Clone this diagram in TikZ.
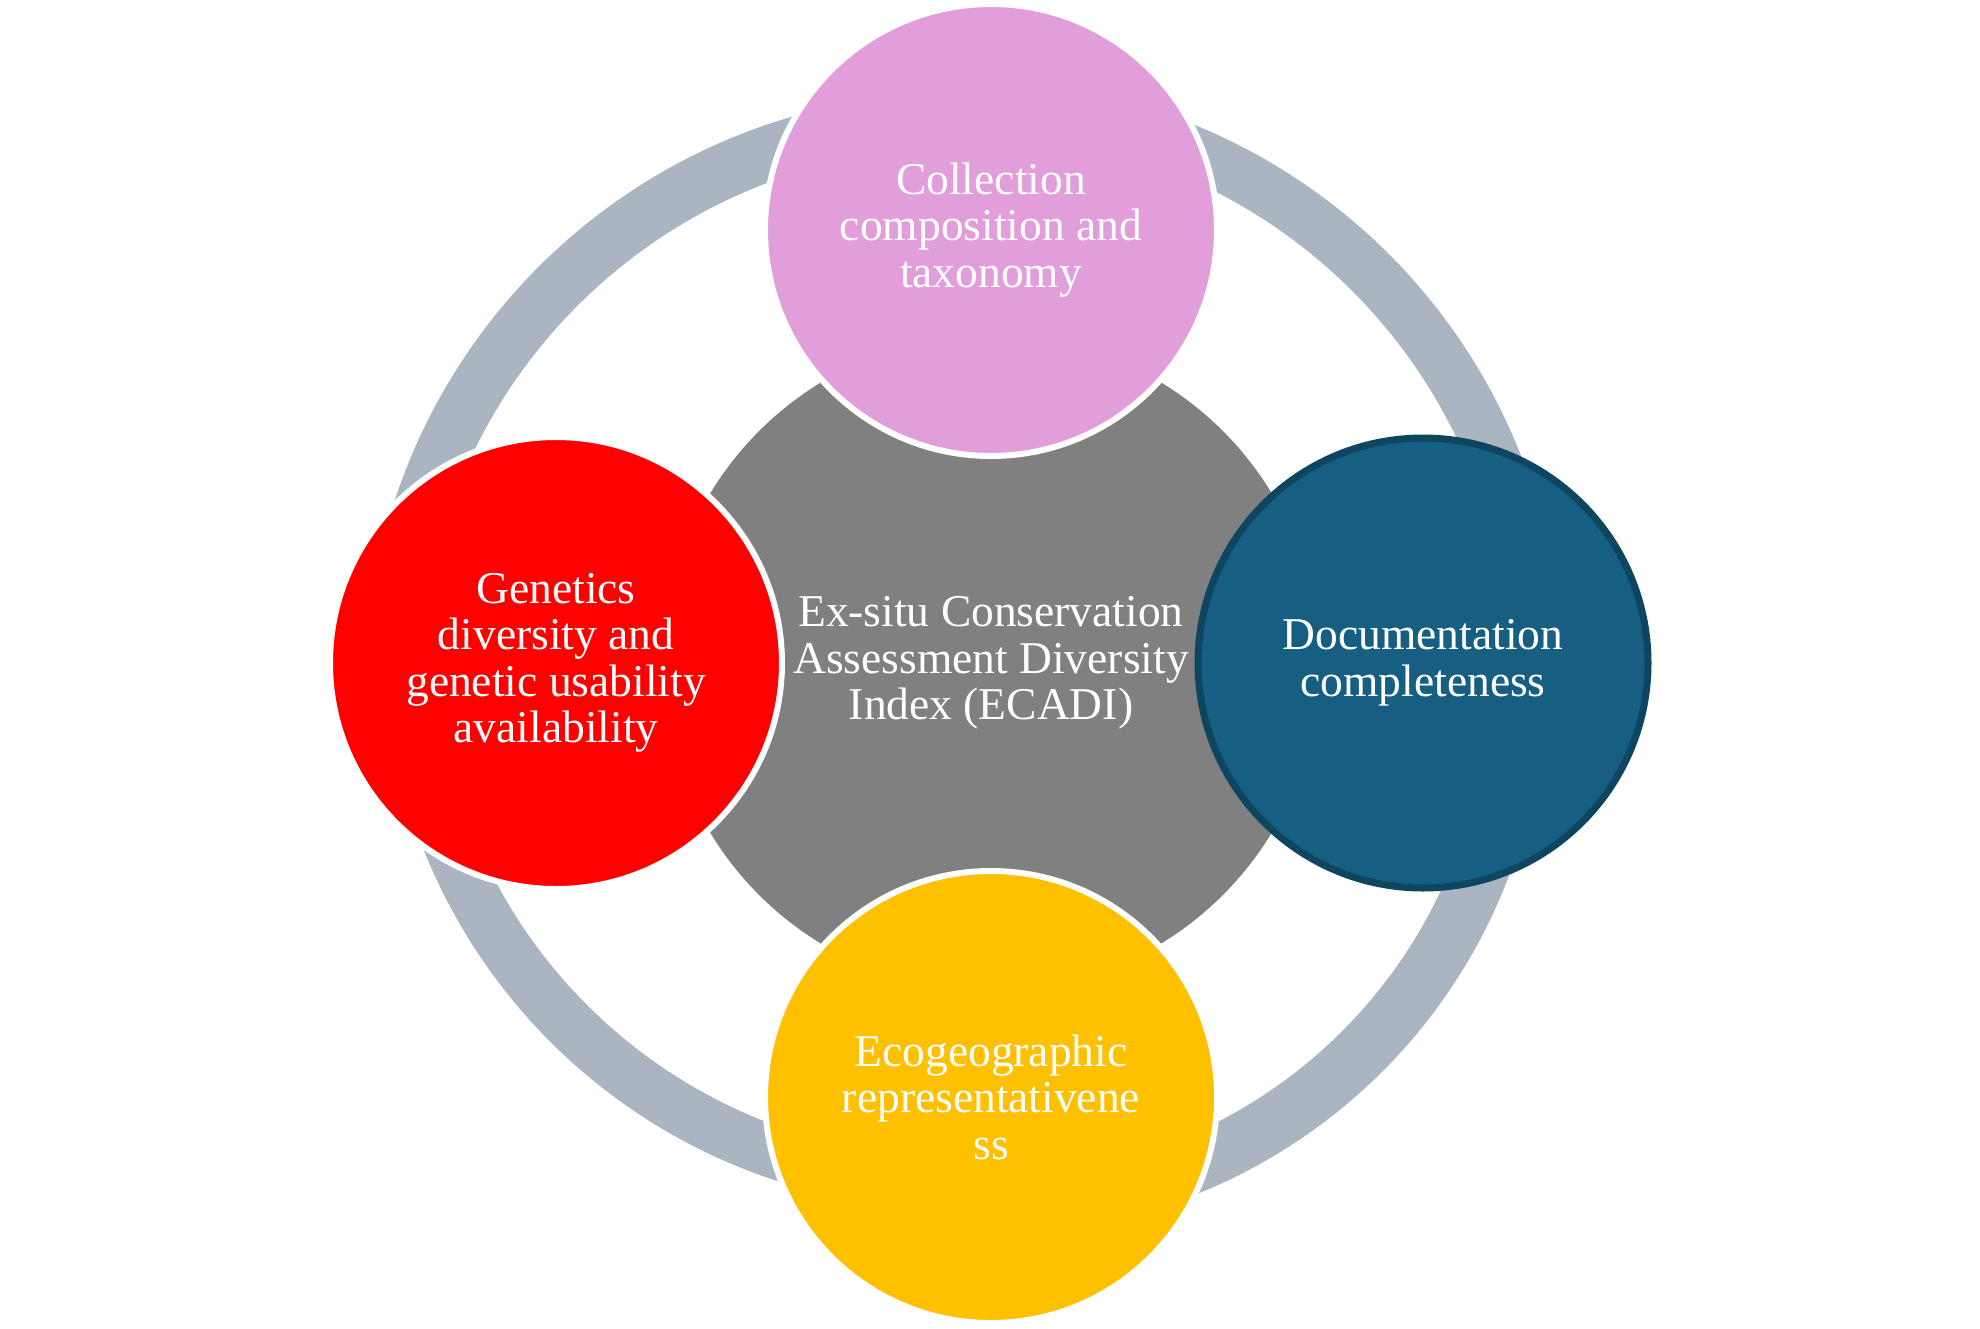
\documentclass[tikz,border=0pt]{standalone}
\usepackage{fontspec}
\setmainfont{Liberation Serif}
\definecolor{ringcol}{HTML}{AAB5C1}
\definecolor{coregray}{HTML}{808080}
\definecolor{pinkc}{HTML}{E29EDB}
\definecolor{redc}{HTML}{FF0000}
\definecolor{bluec}{HTML}{165F82}
\definecolor{blueborder}{HTML}{0E4560}
\definecolor{yellowc}{HTML}{FFC000}
% #1,#2 centre; #3 outer radius; #4 inner radius; #5,#6 start/end angle
\newcommand{\ringsegment}[6]{%
  \begin{scope}[shift={(#1,#2)}]
    \fill[ringseg] (#5:#3) arc[start angle=#5, end angle=#6, radius=#3]
      -- (#6:#4) arc[start angle=#6, end angle=#5, radius=#4] -- cycle;
  \end{scope}}
\begin{document}
\begin{tikzpicture}[x=1pt,y=-1pt,
  ringseg/.style={fill=ringcol},
  lbl/.style={font=\fontsize{45.5}{46.5}\selectfont, text=white, align=center},
  petal/.style={circle, minimum size=452pt, draw=white, line width=6pt, inner sep=0pt, lbl},
]
\useasboundingbox (0,0) rectangle (1980,1328);
% outer ring, four arc segments (ends hidden under the petals)
\ringsegment{958}{686}{593}{538}{-95}{-172}
\ringsegment{971}{672}{591}{539}{-12}{-80}
\ringsegment{954}{638}{571}{519}{168}{98}
\ringsegment{990}{679}{555}{498}{78}{11}
% core
\node[circle, fill=coregray, minimum size=656pt, inner sep=0pt, lbl] (core) at (991,663)
  {Ex-situ Conservation\\Assessment Diversity\\Index (ECADI)};
% petals
\node[petal, fill=pinkc] (toppetal) at (991,230)
  {Collection\\composition and\\taxonomy};
\node[petal, fill=redc] (leftpetal) at (556,663)
  {Genetics\\diversity and\\genetic usability\\availability};
\node[petal, fill=bluec, draw=blueborder, line width=7pt, minimum size=450pt] (rightpetal) at (1423,663)
  {Documentation\\completeness};
\node[petal, fill=yellowc] (bottompetal) at (991,1097)
  {Ecogeographic\\representativene\\ss};
\end{tikzpicture}
\end{document}
